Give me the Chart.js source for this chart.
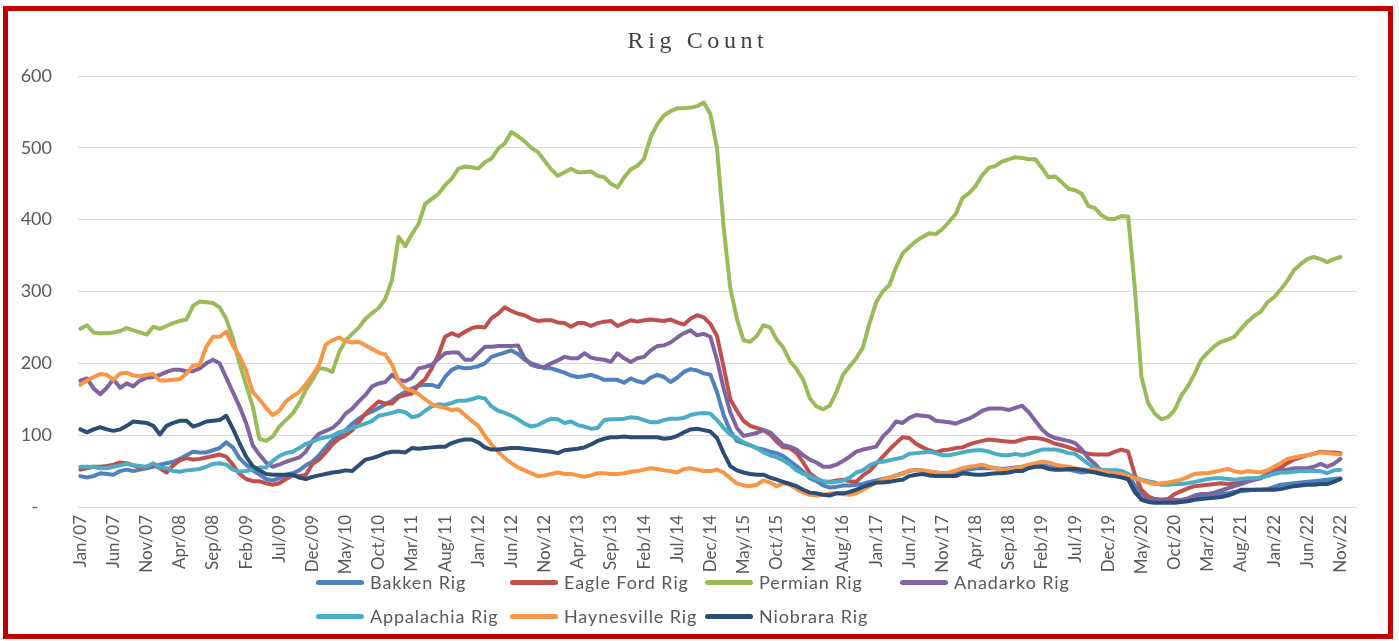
<!DOCTYPE html>
<html lang="en">
<head>
    <meta charset="UTF-8">
    <title>Rig Count</title>
    <script src="https://cdn.jsdelivr.net/npm/chart.js"></script>
    <style>
        body {
            margin: 0;
            background: #ffffff;
            font-family: Lato, "Liberation Sans", sans-serif;
        }
        .wrap {
            position: relative;
            width: 1399px;
            height: 641px;
            overflow: hidden;
        }
        .frame {
            position: absolute;
            left: 3px;
            top: 6px;
            width: 1380px;
            height: 623px;
            border: 5px solid #c00000;
            pointer-events: none;
        }
        #rigChart {
            position: absolute;
            left: 0;
            top: 0;
        }
        .title {
            position: absolute;
            left: 0;
            top: 27px;
            width: 1396px;
            text-align: center;
            font-family: "Liberation Serif", "DejaVu Serif", serif;
            font-size: 24px;
            line-height: 26px;
            letter-spacing: 4.6px;
            color: #404040;
        }
        .legend-item {
            position: absolute;
            height: 20px;
        }
        .legend-item .swatch {
            position: absolute;
            left: 0;
            top: 8px;
            width: 48px;
            height: 5px;
            border-radius: 3px;
        }
        .legend-item .label {
            position: absolute;
            left: 54px;
            top: 0;
            white-space: nowrap;
            font-size: 18px;
            line-height: 20px;
            letter-spacing: 0.9px;
            color: #595959;
        }
    </style>
</head>
<body>
<div class="wrap">
    <canvas id="rigChart" width="1399" height="641"></canvas>
    <div class="title">Rig Count</div>
    <div id="legend"></div>
    <div class="frame"></div>
</div>

<script>
    // month labels Jan/07 .. Jan/23 (data stops at Nov/22)
    const monthNames = ['Jan', 'Feb', 'Mar', 'Apr', 'May', 'Jun', 'Jul', 'Aug', 'Sep', 'Oct', 'Nov', 'Dec'];
    const firstYear = 2007;
    const monthCount = 193;
    const yTicks = [0, 100, 200, 300, 400, 500, 600];

    // rig counts, one value per month starting Jan/07 (12 per row)
    const bakken = [
        43, 41, 43, 47, 46, 45, 50, 52, 50, 52, 54, 56,
        59, 61, 63, 67, 72, 77, 76, 76, 79, 82, 90, 83,
        68, 59, 51, 45, 39, 37, 40, 45, 47, 51, 58, 63,
        72, 83, 93, 100, 107, 116, 123, 129, 133, 138, 143, 148,
        155, 160, 165, 169, 170, 170, 167, 181, 191, 195, 193, 194,
        196, 200, 209, 212, 215, 218, 213, 205, 200, 197, 193, 193,
        190, 187, 183, 181, 182, 184, 181, 177, 177, 177, 173, 179,
        175, 173, 180, 184, 181, 174, 180, 188, 192, 190, 186, 184,
        160, 128, 106, 92, 89, 86, 82, 80, 77, 75, 71, 64,
        57, 49, 40, 36, 30, 27, 28, 30, 30, 31, 32, 35,
        37, 39, 41, 44, 47, 50, 52, 51, 49, 48, 47, 47,
        48, 50, 52, 54, 54, 54, 54, 53, 54, 55, 56, 56,
        57, 59, 56, 54, 53, 52, 50, 48, 49, 49, 47, 49,
        51, 50, 45, 30, 18, 12, 11, 10, 9, 9, 10, 11,
        13, 14, 16, 17, 18, 19, 21, 22, 23, 24, 24, 25,
        28, 31, 32, 33, 34, 35, 36, 37, 38, 39, 40
    ];
    const eagleFord = [
        52, 54, 56, 56, 57, 59, 62, 61, 58, 55, 56, 59,
        54, 48, 58, 65, 68, 66, 67, 69, 71, 73, 70, 59,
        46, 39, 36, 36, 33, 31, 33, 39, 44, 43, 45, 60,
        66, 76, 87, 95, 100, 107, 118, 130, 139, 147, 144, 144,
        153, 156, 158, 170, 178, 193, 212, 237, 242, 238, 244, 249,
        251, 250, 263, 269, 278, 273, 269, 267, 262, 259, 260, 260,
        257, 256, 251, 256, 256, 252, 256, 258, 259, 252, 256, 260,
        258, 260, 261, 260, 259, 261, 257, 254, 262, 267, 264, 255,
        238, 195, 150, 134, 120, 113, 110, 107, 101, 91, 83, 82,
        75, 62, 47, 40, 35, 35, 37, 38, 36, 35, 44, 50,
        60, 70, 80, 89, 97, 96, 88, 83, 79, 76, 79, 80,
        82, 83, 87, 90, 92, 94, 93, 92, 91, 91, 94, 96,
        96, 95, 92, 88, 86, 83, 80, 77, 74, 73, 73, 73,
        77, 80, 77, 45, 24, 15, 11, 10, 11, 18, 22, 26,
        29, 30, 31, 32, 33, 32, 33, 34, 36, 38, 41, 46,
        51, 55, 61, 66, 69, 72, 74, 77, 76, 76, 75
    ];
    const permian = [
        248, 253, 243, 242, 242, 243, 245, 249, 246, 243, 240, 251,
        248, 252, 256, 259, 261, 280, 286, 285, 284, 278, 262, 235,
        200, 170, 140, 95, 92, 98, 112, 121, 130, 144, 163, 177,
        193, 192, 188, 215, 232, 241, 250, 262, 270, 277, 290, 316,
        376, 363, 380, 394, 422, 429, 436, 448, 457, 471, 474, 473,
        471, 480, 485, 499, 506, 522, 516, 509, 500, 494, 482, 470,
        461, 466, 471, 466, 466, 467, 461, 459, 450, 445, 459, 470,
        475, 485, 515, 533, 545, 551, 555, 555, 556, 558, 563, 547,
        500, 390, 305, 262, 232, 230, 238, 253, 250, 233, 222, 203,
        192, 177, 151, 140, 136, 141, 160, 184, 196, 207, 222, 256,
        285, 300, 309, 334, 353, 362, 370, 376, 381, 380, 387, 397,
        408, 430, 437, 447, 462, 472, 475, 481, 484, 487, 486, 484,
        484, 472, 459, 460, 452, 443, 441, 436, 419, 416, 406, 401,
        401, 405, 404, 305, 181, 145, 130, 122, 125, 135, 155, 168,
        185, 205, 215, 224, 230, 233, 237, 248, 258, 266, 272, 285,
        292, 303, 315, 330, 338, 345, 348, 345, 341, 345, 348
    ];
    const anadarko = [
        176, 179, 165, 157, 166, 178, 166, 172, 168, 176, 180, 181,
        184, 188, 191, 191, 189, 189, 193, 200, 205, 200, 180, 160,
        140, 117, 86, 73, 62, 56, 59, 63, 66, 69, 77, 92,
        102, 106, 110, 118, 130, 137, 147, 156, 168, 172, 174, 184,
        177, 175, 180, 193, 195, 198, 206, 214, 215, 215, 205, 205,
        214, 223, 223, 224, 224, 224, 225, 207, 198, 195, 195, 200,
        204, 209, 207, 207, 214, 208, 206, 205, 202, 214, 207, 202,
        207, 209, 218, 224, 225, 229, 236, 242, 246, 239, 241, 237,
        205, 165, 132, 110, 99, 101, 103, 107, 104, 95, 86, 84,
        80, 72, 66, 62, 56, 56, 59, 64, 70, 77, 80, 82,
        84, 98, 107, 119, 117, 124, 128, 127, 126, 120, 119, 118,
        116, 120, 123, 128, 134, 137, 137, 137, 135, 138, 141, 132,
        120, 108, 100, 96, 94, 92, 89, 80, 68, 60, 49, 46,
        45, 43, 38, 20, 11, 10, 10, 9, 10, 10, 9, 12,
        16, 18, 18, 20, 23, 26, 29, 32, 35, 38, 40, 45,
        49, 51, 52, 54, 54, 54, 56, 60, 56, 60, 67
    ];
    const appalachia = [
        56, 56, 56, 54, 54, 56, 58, 60, 58, 57, 56, 61,
        55, 54, 50, 49, 51, 52, 53, 56, 60, 61, 59, 52,
        49, 50, 52, 55, 55, 64, 71, 75, 77, 82, 88, 91,
        95, 97, 99, 104, 106, 110, 113, 116, 120, 127, 129, 131,
        134, 132, 125, 127, 134, 140, 143, 142, 145, 148, 148, 150,
        153, 151, 140, 134, 131, 127, 122, 116, 112, 114, 119, 123,
        122, 117, 119, 114, 112, 109, 110, 121, 122, 122, 123, 125,
        124, 121, 118, 118, 121, 123, 123, 124, 128, 130, 131, 130,
        121, 110, 101, 96, 90, 86, 82, 76, 72, 69, 65, 59,
        51, 46, 43, 39, 36, 34, 35, 37, 41, 48, 51, 58,
        62, 63, 65, 67, 69, 74, 75, 76, 77, 75, 72, 72,
        74, 76, 78, 79, 79, 77, 74, 72, 72, 74, 72, 74,
        77, 80, 80, 80, 78, 75, 74, 67, 60, 54, 52, 51,
        51, 50, 46, 41, 38, 36, 34, 31, 31, 32, 32, 33,
        35, 37, 39, 40, 40, 39, 38, 39, 40, 40, 41, 43,
        46, 48, 48, 49, 50, 50, 50, 50, 47, 51, 52
    ];
    const haynesville = [
        170, 176, 181, 185, 184, 177, 186, 187, 183, 182, 184, 185,
        176, 176, 177, 178, 186, 197, 198, 223, 237, 237, 244, 225,
        210, 190, 160, 150, 138, 128, 134, 147, 154, 160, 171, 183,
        198, 226, 232, 236, 231, 229, 230, 225, 220, 215, 212, 198,
        175, 165, 162, 157, 150, 143, 140, 138, 135, 136, 128, 120,
        113, 99, 87, 77, 68, 61, 55, 51, 47, 43, 44, 46,
        48, 46, 46, 44, 42, 44, 47, 47, 46, 46, 47, 49,
        50, 52, 54, 53, 51, 50, 48, 53, 54, 52, 50, 50,
        52, 48, 40, 33, 30, 29, 31, 37, 34, 29, 33, 31,
        25, 20, 17, 16, 17, 19, 19, 18, 17, 19, 24, 29,
        34, 38, 41, 44, 46, 51, 51, 51, 50, 48, 47, 48,
        51, 54, 56, 57, 59, 56, 54, 52, 53, 54, 56, 59,
        61, 63, 62, 59, 57, 56, 54, 52, 52, 52, 50, 48,
        47, 46, 43, 40, 37, 34, 32, 33, 34, 36, 38, 42,
        46, 47, 47, 49, 51, 53, 50, 48, 50, 49, 48, 51,
        56, 61, 67, 69, 71, 72, 74, 76, 75, 74, 73
    ];
    const niobrara = [
        108, 104, 108, 111, 108, 106, 108, 113, 119, 118, 117, 113,
        101, 113, 117, 120, 120, 112, 115, 119, 120, 121, 127, 109,
        89, 70, 57, 51, 46, 45, 45, 45, 45, 41, 39, 42,
        44, 46, 48, 49, 51, 50, 58, 66, 68, 71, 75, 77,
        77, 76, 82, 81, 82, 83, 84, 84, 89, 92, 94, 94,
        90, 83, 80, 80, 81, 82, 82, 81, 80, 79, 78, 77,
        75, 79, 80, 81, 83, 87, 92, 95, 97, 97, 98, 97,
        97, 97, 97, 97, 95, 96, 99, 104, 108, 109, 107, 105,
        96, 75, 57, 51, 48, 46, 45, 45, 41, 38, 35, 32,
        29, 24, 20, 19, 17, 16, 19, 19, 21, 24, 28, 31,
        34, 34, 35, 37, 38, 43, 45, 46, 44, 43, 43, 43,
        43, 47, 46, 45, 45, 46, 47, 47, 48, 50, 50, 54,
        56, 56, 53, 52, 52, 53, 53, 52, 50, 48, 46, 44,
        43, 41, 39, 22, 10, 7, 6, 6, 6, 6, 7, 8,
        10, 11, 12, 13, 14, 16, 19, 24, 24, 24, 24, 24,
        24, 25, 27, 29, 30, 31, 31, 32, 32, 35, 39
    ];

    const seriesNames = ['Bakken Rig', 'Eagle Ford Rig', 'Permian Rig', 'Anadarko Rig',
                         'Appalachia Rig', 'Haynesville Rig', 'Niobrara Rig'];
    const seriesColors = ['#4f81bd', '#c0504d', '#9bbb59', '#8064a2',
                          '#4bacc6', '#f79646', '#2c4d75'];
    const seriesData = [bakken, eagleFord, permian, anadarko, appalachia, haynesville, niobrara];

    const labels = [];
    for (let i = 0; i < monthCount; i++) {
        const yy = String((firstYear + Math.floor(i / 12)) % 100).padStart(2, '0');
        labels.push(monthNames[i % 12] + '/' + yy);
    }

    const datasets = seriesNames.map((name, i) => ({
        label: name,
        data: seriesData[i],
        borderColor: seriesColors[i],
        backgroundColor: seriesColors[i],
        borderWidth: 4,
        pointRadius: 0,
        borderJoinStyle: 'round',
        borderCapStyle: 'round',
        tension: 0,
        fill: false,
        order: seriesNames.length - i   // excel draws the last series on top
    }));

    new Chart(document.getElementById('rigChart').getContext('2d'), {
        type: 'line',
        data: { labels: labels, datasets: datasets },
        options: {
            responsive: false,
            animation: false,
            devicePixelRatio: 1,
            layout: { padding: { left: 0, right: 42, top: 76, bottom: 64 } },
            plugins: {
                legend: { display: false },
                title: { display: false },
                tooltip: { enabled: false }
            },
            scales: {
                x: {
                    type: 'category',
                    offset: true,
                    grid: { display: false, drawTicks: false },
                    border: { display: false },
                    ticks: {
                        autoSkip: false,
                        minRotation: 90,
                        maxRotation: 90,
                        padding: 8,
                        color: '#595959',
                        font: { family: 'Lato', size: 17 },
                        callback: function (val, i) {
                            return (i % 5 === 0 && i <= 190) ? this.getLabelForValue(val) : '';
                        }
                    },
                    afterFit: function (scale) { scale.height = 70; }
                },
                y: {
                    min: 0,
                    max: 600,
                    afterBuildTicks: function (scale) {
                        scale.ticks = yTicks.map(v => ({ value: v }));
                    },
                    grid: { color: '#d9d9d9', lineWidth: 1, drawTicks: false },
                    border: { display: false },
                    ticks: {
                        padding: 25,
                        color: '#595959',
                        font: { family: 'Lato', size: 18 },
                        callback: function (v) { return v === 0 ? '-   ' : v; }
                    },
                    afterFit: function (scale) { scale.width = 77; }
                }
            }
        }
    });

    // legend laid out like the excel one: 4 columns, 2 rows
    const legendCols = [316, 510, 705, 900];
    const legendRows = [572, 606];
    const legendBox = document.getElementById('legend');
    seriesNames.forEach((name, i) => {
        const item = document.createElement('div');
        item.className = 'legend-item';
        item.style.left = legendCols[i % 4] + 'px';
        item.style.top = legendRows[Math.floor(i / 4)] + 'px';
        item.innerHTML = '<div class="swatch" style="background:' + seriesColors[i] + '"></div>' +
                         '<span class="label">' + name + '</span>';
        legendBox.appendChild(item);
    });
</script>
</body>
</html>
